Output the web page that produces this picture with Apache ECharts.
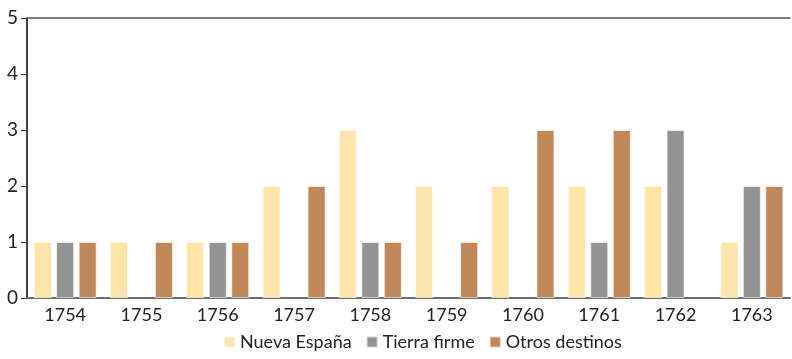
<!DOCTYPE html>
<html>
<head>
<meta charset="utf-8">
<script src="https://cdn.jsdelivr.net/npm/echarts@6/dist/echarts.min.js"></script>
<style>
  html, body { margin: 0; padding: 0; background: #fff; }
  #chart { width: 792px; height: 359px; }
</style>
</head>
<body>
<div id="chart"></div>
<script>
const years = ['1754', '1755', '1756', '1757', '1758', '1759', '1760', '1761', '1762', '1763']
const nuevaEspana = [1, 1, 1, 2, 3, 2, 2, 2, 2, 1]
const tierraFirme = [1, 0, 1, 0, 1, 0, 0, 1, 3, 2]
const otrosDestinos = [1, 1, 1, 2, 1, 1, 3, 3, 0, 2]

const font = 'Lato, "Open Sans", sans-serif'

const mkSeries = (name, data, color) => ({
  name,
  type: 'bar',
  data: data.map(v => (v === 0 ? null : v)),
  barWidth: 18,
  barGap: '25%',
  itemStyle: { color, borderColor: 'rgba(255,255,255,0.6)', borderWidth: 1 }
})

const chart = echarts.init(document.getElementById('chart'))
chart.setOption({
  animation: false,
  textStyle: { fontFamily: font },
  grid: { left: 27, right: 2, top: 18, bottom: 61 },
  legend: {
    bottom: 3,
    left: 218,
    itemWidth: 11,
    itemHeight: 11,
    itemGap: 14,
    icon: 'rect',
    textStyle: { fontSize: 18, color: '#222', fontFamily: font },
    data: ['Nueva España', 'Tierra firme', 'Otros destinos']
  },
  xAxis: [
    {
      type: 'category',
      data: years,
      axisLine: { lineStyle: { color: '#6e6e6e', width: 2 } },
      axisTick: { show: false },
      axisLabel: { color: '#222', fontSize: 18, margin: 8 }
    },
    {
      type: 'category',
      position: 'top',
      data: years,
      axisLine: { lineStyle: { color: '#555', width: 1.5 } },
      axisTick: { show: false },
      axisLabel: { show: false }
    }
  ],
  yAxis: {
    type: 'value',
    min: 0,
    max: 5,
    interval: 1,
    axisLine: { show: true, lineStyle: { color: '#000', width: 1.5 } },
    axisTick: { show: true, length: 6, lineStyle: { color: '#333' } },
    axisLabel: { color: '#222', fontSize: 19, margin: 9 },
    splitLine: { show: false }
  },
  series: [
    mkSeries('Nueva España', nuevaEspana, '#fde4a8'),
    mkSeries('Tierra firme', tierraFirme, '#939393'),
    mkSeries('Otros destinos', otrosDestinos, '#c08858')
  ]
})
</script>
</body>
</html>
